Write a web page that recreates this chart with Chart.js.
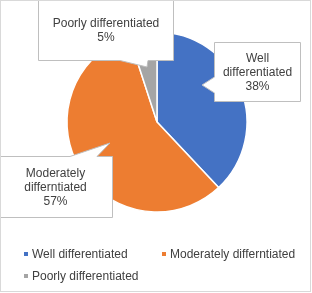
<!DOCTYPE html>
<html>
<head>
<meta charset="utf-8">
<script src="https://cdn.jsdelivr.net/npm/chart.js@4/dist/chart.umd.min.js"></script>
<style>
  body { margin: 0; background: #fff; }
  canvas { display: block; }
</style>
</head>
<body>
<canvas id="grafico" width="312" height="293"></canvas>
<script>
const categorias = ["Well differentiated", "Moderately differntiated", "Poorly differentiated"];
const percentuais = [38, 57, 5];
// linhas de texto dos balões (o rótulo quebra diferente em cada um)
const rotulos = [
    ["Well", "differentiated", "38%"],
    ["Moderately", "differntiated", "57%"],
    ["Poorly differentiated", "5%"]
];
const cores = ["#4472C4", "#ED7D31", "#A5A5A5"];

// posição dos balões relativa ao centro da pizza: caixa, ponta e base da seta
const BALOES = [
    { caixa: [57, -80, 143, -21], lado: "left", base: [-45, -29], ponta: [45, -37] },
    { caixa: [-159, 34, -45, 95], lado: "top", base: [-87, -60], ponta: [-47, 21] },
    { caixa: [-119, -123, 16, -62], lado: "bottom", base: [-37, -9], ponta: [-10, -55] }
];

const FONTE = '12px "Liberation Sans", Arial, sans-serif';
const COR_TEXTO = "#404040";

function caminhoBalao(ctx, cx, cy, b) {
    const x0 = Math.round(cx + b.caixa[0]) + 0.5, y0 = Math.round(cy + b.caixa[1]) + 0.5;
    const x1 = Math.round(cx + b.caixa[2]) + 0.5, y1 = Math.round(cy + b.caixa[3]) + 0.5;
    const tx = cx + b.ponta[0], ty = cy + b.ponta[1];
    ctx.beginPath();
    if (b.lado == "left") {
        const b0 = cy + b.base[0], b1 = cy + b.base[1];
        ctx.moveTo(x0, y0); ctx.lineTo(x1, y0); ctx.lineTo(x1, y1); ctx.lineTo(x0, y1);
        ctx.lineTo(x0, b1); ctx.lineTo(tx, ty); ctx.lineTo(x0, b0);
    } else if (b.lado == "top") {
        const b0 = cx + b.base[0], b1 = cx + b.base[1];
        ctx.moveTo(x0, y0); ctx.lineTo(b0, y0); ctx.lineTo(tx, ty); ctx.lineTo(b1, y0);
        ctx.lineTo(x1, y0); ctx.lineTo(x1, y1); ctx.lineTo(x0, y1);
    } else {
        const b0 = cx + b.base[0], b1 = cx + b.base[1];
        ctx.moveTo(x0, y0); ctx.lineTo(x1, y0); ctx.lineTo(x1, y1); ctx.lineTo(b1, y1);
        ctx.lineTo(tx, ty); ctx.lineTo(b0, y1); ctx.lineTo(x0, y1);
    }
    ctx.closePath();
    return [(x0 + x1) / 2, (y0 + y1) / 2];
}

const pluginBaloes = {
    id: "baloes",
    afterDatasetsDraw(chart) {
        const ctx = chart.ctx;
        const arcos = chart.getDatasetMeta(0).data;
        ctx.save();
        ctx.font = FONTE;
        ctx.textAlign = "center";
        ctx.textBaseline = "middle";
        arcos.forEach((arco, i) => {
            const b = BALOES[i];
            const meio = caminhoBalao(ctx, arco.x, arco.y, b);
            ctx.fillStyle = "#ffffff";
            ctx.fill();
            ctx.strokeStyle = "#bfbfbf";
            ctx.lineWidth = 1;
            ctx.stroke();
            ctx.fillStyle = COR_TEXTO;
            const linhas = rotulos[i];
            linhas.forEach((t, k) => {
                ctx.fillText(t, meio[0], meio[1] + 1 + (k - (linhas.length - 1) / 2) * 14);
            });
        });
        ctx.restore();
    }
};

const pluginLegenda = {
    id: "legendaColunas",
    afterDraw(chart) {
        const ctx = chart.ctx;
        ctx.save();
        ctx.font = FONTE;
        ctx.textBaseline = "middle";
        ctx.textAlign = "left";
        categorias.forEach((nome, i) => {
            const col = i % 2, lin = Math.floor(i / 2);
            const x = 24 + col * 138, y = 254 + lin * 22;
            ctx.fillStyle = cores[i];
            ctx.fillRect(x, y - 2, 4, 4);
            ctx.fillStyle = COR_TEXTO;
            ctx.fillText(nome, x + 8, y + 1);
        });
        // moldura do gráfico
        ctx.strokeStyle = "#d9d9d9";
        ctx.lineWidth = 1;
        ctx.strokeRect(0.5, 0.5, chart.width - 2, chart.height - 2);
        ctx.restore();
    }
};

new Chart(document.getElementById("grafico"), {
    type: "pie",
    data: {
        labels: categorias,
        datasets: [{
            data: percentuais,
            backgroundColor: cores,
            borderColor: "#ffffff",
            borderWidth: 1.5
        }]
    },
    options: {
        responsive: false,
        animation: false,
        radius: 90,
        layout: { padding: { left: 57, right: 55, top: 22, bottom: 71 } },
        plugins: { legend: { display: false }, tooltip: { enabled: false } },
        events: []
    },
    plugins: [pluginBaloes, pluginLegenda]
});
</script>
</body>
</html>
